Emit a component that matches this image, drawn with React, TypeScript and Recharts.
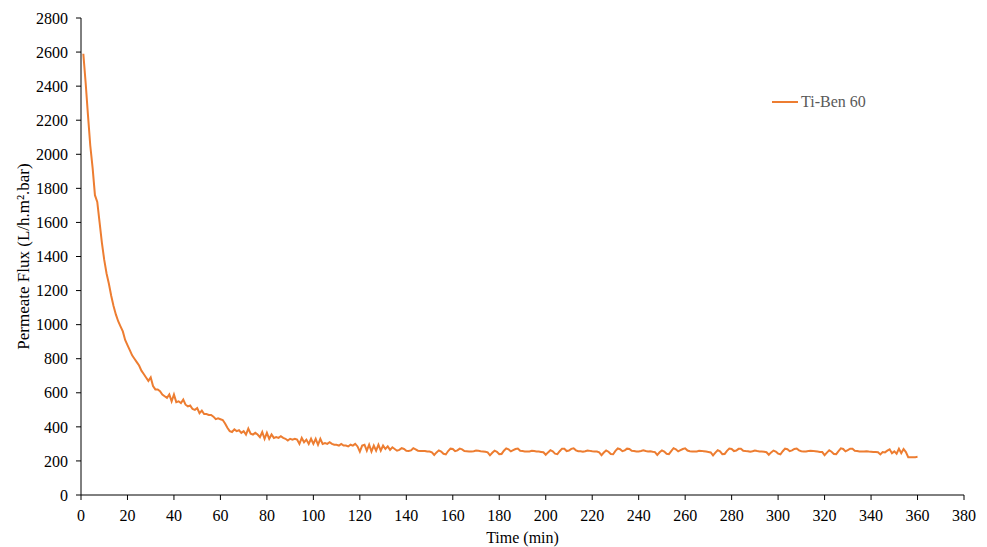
import React from 'react';
import { LineChart, Line, XAxis, YAxis, Legend } from 'recharts';

const seriesName = 'Ti-Ben 60';

const flux1to151: number[] = [
  2590, 2420, 2230, 2050, 1920, 1760, 1720, 1600, 1480, 1380,
  1300, 1240, 1170, 1110, 1060, 1020, 990, 960, 910, 880,
  850, 820, 800, 780, 760, 730, 710, 690, 670, 690,
  640, 620, 620, 610, 590, 580, 570, 590, 550, 590,
  545, 550, 540, 560, 530, 520, 525, 505, 500, 510,
  480, 495, 475, 475, 470, 470, 460, 445, 450, 445,
  440, 420, 395, 375, 370, 385, 375, 380, 365, 375,
  355, 390, 360, 355, 365, 355, 340, 370, 330, 365,
  330, 355, 335, 340, 335, 345, 335, 330, 320, 330,
  325, 330, 325, 300, 335, 310, 325, 300, 330, 300,
  330, 295, 330, 300, 305, 300, 310, 300, 295, 295,
  290, 300, 290, 290, 285, 295, 290, 300, 285, 255,
  290, 295, 260, 295, 255, 290, 260, 295, 260, 290,
  270, 285, 265, 280, 270, 260, 265, 275, 270, 260,
  258, 262, 275, 268, 260, 258, 258, 258, 255, 255,
  250,
];

const flux152to343: number[] = [
  235, 250, 262, 255, 242, 238, 258, 272, 270, 257, 262, 272, 268, 258, 257, 256, 255, 257, 261, 260, 257, 256, 254, 250,
  233, 248, 260, 254, 240, 241, 260, 274, 268, 256, 263, 270, 273, 260, 258, 256, 255, 256, 260, 258, 256, 255, 253, 251,
  236, 250, 263, 256, 243, 240, 257, 272, 271, 258, 261, 271, 274, 262, 257, 257, 254, 257, 261, 259, 257, 256, 255, 250,
  234, 249, 261, 254, 241, 239, 259, 273, 269, 257, 262, 272, 270, 259, 258, 255, 256, 258, 262, 258, 256, 257, 254, 252,
  235, 251, 262, 255, 242, 240, 258, 275, 268, 256, 263, 270, 274, 261, 257, 256, 255, 256, 260, 259, 257, 255, 253, 250,
  233, 249, 263, 256, 240, 241, 259, 273, 270, 258, 261, 271, 272, 260, 258, 257, 254, 257, 261, 258, 256, 256, 254, 251,
  236, 250, 261, 255, 243, 239, 257, 272, 269, 257, 262, 270, 273, 262, 257, 255, 256, 258, 260, 259, 257, 255, 253, 252,
  234, 249, 262, 254, 241, 240, 258, 274, 270, 256, 263, 272, 271, 260, 258, 256, 255, 256, 257, 255, 254, 253, 252, 251,
];

const flux344to360: number[] = [
  238, 252, 250, 260, 268, 245, 256, 242, 272, 246, 270, 252, 222, 222, 221, 222, 224,
];

const fluxValues: number[] = [...flux1to151, ...flux152to343, ...flux344to360];
const timeMinutes: number[] = fluxValues.map((_, i) => i + 1);

const xTicks: number[] = [0, 20, 40, 60, 80, 100, 120, 140, 160, 180, 200, 220, 240, 260, 280, 300, 320, 340, 360, 380];
const yTicks: number[] = [0, 200, 400, 600, 800, 1000, 1200, 1400, 1600, 1800, 2000, 2200, 2400, 2600, 2800];

const data = timeMinutes.map((t, i) => ({ time: t, flux: fluxValues[i] }));

const FONT = '"Liberation Serif", "Times New Roman", serif';
const ORANGE = '#ED7D31';

const LegendContent = () => (
  <div style={{ display: 'flex', alignItems: 'center', fontFamily: FONT, fontSize: 16, color: '#595959' }}>
    <svg width={26} height={10} style={{ marginRight: 3 }}>
      <line x1={0} y1={5} x2={26} y2={5} stroke={ORANGE} strokeWidth={2} />
    </svg>
    <span>{seriesName}</span>
  </div>
);

export default function App() {
  return (
    <div style={{ position: 'absolute', left: 0, top: 0, background: '#fff' }}>
      <LineChart
        width={987}
        height={547}
        data={data}
        margin={{ top: 18, right: 23, bottom: 22, left: 0 }}
      >
        <XAxis
          dataKey="time"
          type="number"
          domain={[0, 380]}
          ticks={xTicks}
          interval={0}
          height={30}
          tickSize={5}
          tickMargin={10}
          stroke="#000"
          tick={{ fill: '#000', fontSize: 16, fontFamily: FONT }}
          label={{ value: 'Time (min)', position: 'bottom', offset: 7, fill: '#000', fontSize: 16, fontFamily: FONT }}
        />
        <YAxis
          type="number"
          domain={[0, 2800]}
          ticks={yTicks}
          interval={0}
          width={81}
          tickSize={5}
          tickMargin={8}
          stroke="#000"
          tick={{ fill: '#000', fontSize: 16, fontFamily: FONT }}
          label={{ value: 'Permeate Flux (L/h.m².bar)', angle: -90, position: 'center', dx: -18, fill: '#000', fontSize: 17, fontFamily: FONT }}
        />
        <Legend
          content={<LegendContent />}
          layout="horizontal"
          verticalAlign="middle"
          align="center"
          wrapperStyle={{ left: 772, top: 93, width: 120 }}
        />
        <Line
          type="linear"
          dataKey="flux"
          name={seriesName}
          stroke={ORANGE}
          strokeWidth={2}
          dot={false}
          isAnimationActive={false}
        />
      </LineChart>
    </div>
  );
}
